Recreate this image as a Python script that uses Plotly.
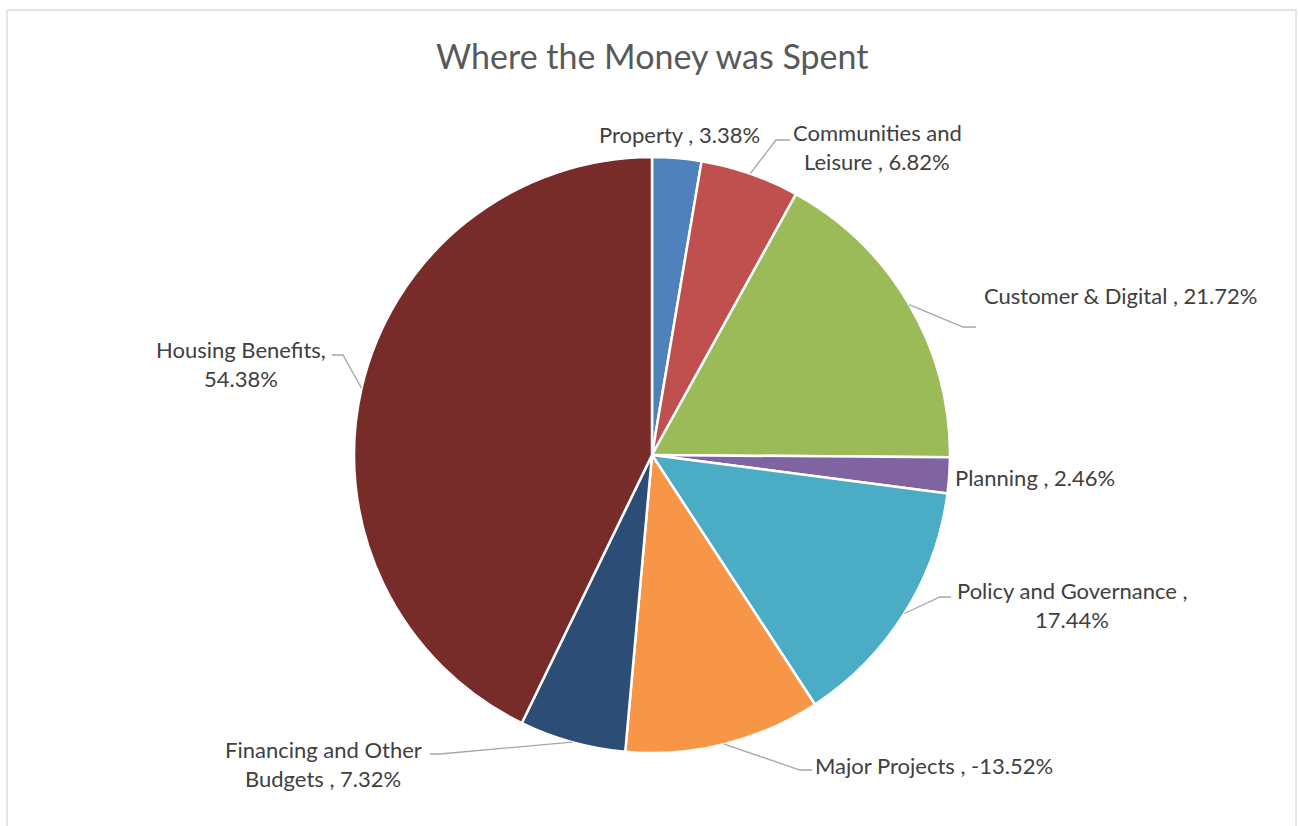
import math
import textwrap

import numpy as np
import plotly.graph_objects as go

# Spending by directorate, share of net spend (%)
categories = [
    "Property ",
    "Communities and Leisure ",
    "Customer & Digital ",
    "Planning ",
    "Policy and Governance ",
    "Major Projects ",
    "Financing and Other Budgets ",
    "Housing Benefits",
]
shares = [3.38, 6.82, 21.72, 2.46, 17.44, -13.52, 7.32, 54.38]

colors = ["#4F81BD", "#C0504D", "#9BBB59", "#8064A2",
          "#4BACC6", "#F79646", "#2C4D75", "#772C2A"]

# ---- page geometry (pixels) ----
W, H = 1298, 826
CX, CY, R = 652, 455, 298

# label layout: wrap width, text centre offset from pie centre,
# leader elbow offset and end of the short horizontal run
label_layout = {
    "Property ": dict(wrap=40, text=(27, -321), elbow=None, end=None),
    "Communities and Leisure ": dict(wrap=16, text=(225, -308), elbow=(124, -315), end=(138, -315)),
    "Customer & Digital ": dict(wrap=40, text=(468, -159), elbow=(311, -128), end=(324, -128)),
    "Planning ": dict(wrap=40, text=(383, 22), elbow=None, end=None),
    "Policy and Governance ": dict(wrap=23, text=(420, 150), elbow=(288, 142), end=(299, 142)),
    "Major Projects ": dict(wrap=40, text=(282, 310), elbow=(148, 315), end=(160, 315)),
    "Financing and Other Budgets ": dict(wrap=19, text=(-329, 309), elbow=(-212, 299), end=(-222, 299)),
    "Housing Benefits": dict(wrap=17, text=(-411, -91), elbow=(-309, -100), end=(-320, -100)),
}

LINE_GAP = 29
FONT = "Lato, 'Open Sans', sans-serif"
TEXT_COLOR = "#404040"


def px(x, y):
    """Pixel position -> paper coordinates."""
    return x / W, 1 - y / H


values = np.abs(np.array(shares))
total = values.sum()
cum = np.concatenate([[0], np.cumsum(values)])
mid_angles = (cum[:-1] + cum[1:]) / 2 / total * 360.0

fig = go.Figure(
    go.Pie(
        labels=categories,
        values=values,
        customdata=shares,
        sort=False,
        direction="clockwise",
        rotation=0,
        textinfo="none",
        hovertemplate="%{label}: %{customdata:.2f}%<extra></extra>",
        marker=dict(colors=colors, line=dict(color="white", width=2.5)),
        domain=dict(x=[(CX - R) / W, (CX + R) / W],
                    y=[1 - (CY + R) / H, 1 - (CY - R) / H]),
        showlegend=False,
    )
)

annotations = []
shapes = []

# chart frame
shapes.append(dict(type="rect", xref="paper", yref="paper",
                   x0=7 / W, x1=1296 / W, y0=-0.02, y1=1 - 10 / H,
                   line=dict(color="#D9D9D9", width=1.3), layer="below"))

for cat, val, ang in zip(categories, shares, mid_angles):
    lay = label_layout[cat]
    text = f"{cat}, {val:.2f}%"
    lines = textwrap.wrap(text, width=lay["wrap"])
    tx, ty = CX + lay["text"][0], CY + lay["text"][1]
    n = len(lines)
    for i, line in enumerate(lines):
        ly = ty + (i - (n - 1) / 2) * LINE_GAP
        x, y = px(tx, ly)
        annotations.append(dict(x=x, y=y, xref="paper", yref="paper",
                                text=line, showarrow=False,
                                xanchor="center", yanchor="middle",
                                font=dict(family=FONT, size=22, color=TEXT_COLOR)))
    if lay["elbow"] is not None:
        th = math.radians(ang)
        ex, ey = CX + R * math.sin(th), CY - R * math.cos(th)
        bx, by = CX + lay["elbow"][0], CY + lay["elbow"][1]
        fx, fy = CX + lay["end"][0], CY + lay["end"][1]
        p0, p1, p2 = px(ex, ey), px(bx, by), px(fx, fy)
        path = f"M {p0[0]} {p0[1]} L {p1[0]} {p1[1]} L {p2[0]} {p2[1]}"
        shapes.append(dict(type="path", xref="paper", yref="paper", path=path,
                           line=dict(color="#A6A6A6", width=1.3)))

# title
tx, ty = px(652, 55)
annotations.append(dict(x=tx, y=ty, xref="paper", yref="paper",
                        text="Where the Money was Spent", showarrow=False,
                        xanchor="center", yanchor="middle",
                        font=dict(family=FONT, size=34, color="#595959", weight=400)))

fig.update_layout(
    width=W, height=H,
    margin=dict(l=0, r=0, t=0, b=0),
    paper_bgcolor="white",
    plot_bgcolor="white",
    annotations=annotations,
    shapes=shapes,
)

fig.write_html("out.html")
